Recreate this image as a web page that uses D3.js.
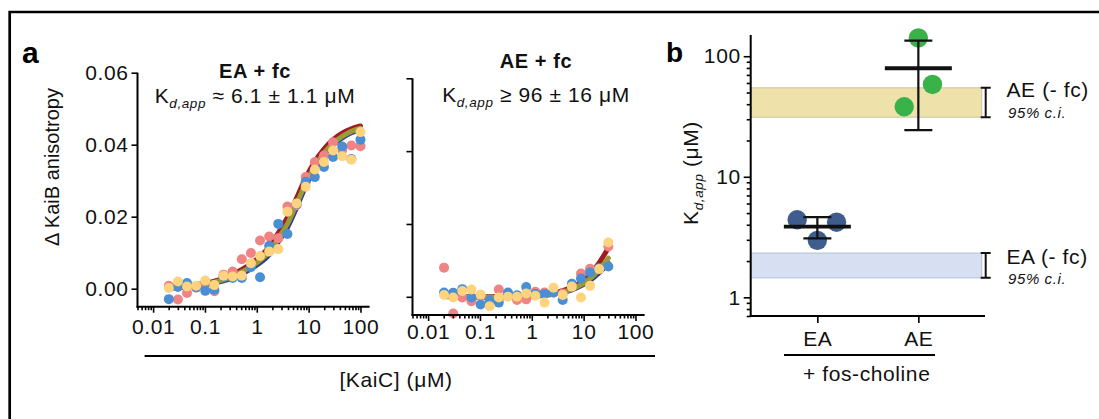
<!DOCTYPE html>
<html>
<head>
<meta charset="utf-8">
<script src="https://cdn.jsdelivr.net/npm/d3@7"></script>
<style>
  html, body { margin: 0; padding: 0; background: #fff; }
  svg { display: block; font-family: "Liberation Sans", Arial, Helvetica, sans-serif; }
  .lbl { font-size: 21px; letter-spacing: 0.6px; fill: #111; }
</style>
</head>
<body>
<svg id="fig" width="1099" height="419"></svg>
<script>
// ---- titration data: [KaiC] (µM), 1.5-fold dilution series ----
const concEA = [0.0201, 0.0301, 0.0451, 0.0677, 0.1015, 0.152, 0.228, 0.343, 0.514, 0.771, 1.156, 1.734, 2.60, 3.90, 5.85, 8.78, 13.17, 19.75, 29.6, 44.4, 66.7, 100];
const concAE = [0.0203, 0.0305, 0.0457, 0.0685, 0.103, 0.154, 0.231, 0.347, 0.52, 0.78, 1.17, 1.76, 2.63, 3.95, 5.93, 8.89, 13.3, 20, 30];

// ΔKaiB anisotropy, three replicates (EA + fc)
const eaRep1 = [0.0008, -0.0030, -0.0012, 0.0003, 0.0018, -0.0007, 0.0039, 0.0048, 0.0082, 0.0099, 0.0134, 0.0145, 0.0140, 0.0228, 0.0232, 0.0310, 0.0352, 0.0370, 0.0407, 0.0385, 0.0398, 0.0396];
const eaRep2 = [-0.0029, 0.0005, 0.0016, 0.0004, -0.0006, -0.0003, 0.0034, 0.0030, 0.0030, 0.0060, 0.0032, 0.0119, 0.0180, 0.0152, 0.0235, 0.0297, 0.0310, 0.0338, 0.0366, 0.0395, 0.0360, 0.0414];
const eaRep3 = [0.0002, 0.0020, 0.0006, 0.0008, 0.0023, 0.0010, 0.0036, 0.0034, 0.0036, 0.0071, 0.0091, 0.0103, 0.0110, 0.0214, 0.0237, 0.0283, 0.0331, 0.0352, 0.0384, 0.0368, 0.0358, 0.0435];
// fitted binding curves (EA + fc)
const eaFit1 = [0.0003, 0.0005, 0.0007, 0.0011, 0.0015, 0.0021, 0.0029, 0.0039, 0.0053, 0.0069, 0.0090, 0.0116, 0.0155, 0.0198, 0.0252, 0.0308, 0.0353, 0.0388, 0.0414, 0.0432, 0.0444, 0.0452];
const eaFit2 = [0.0001, 0.0003, 0.0005, 0.0008, 0.0011, 0.0016, 0.0022, 0.0030, 0.0041, 0.0055, 0.0072, 0.0094, 0.0130, 0.0170, 0.0225, 0.0285, 0.0333, 0.0371, 0.0399, 0.0419, 0.0433, 0.0442];
const eaFit3 = [0.0002, 0.0004, 0.0006, 0.0009, 0.0013, 0.0018, 0.0025, 0.0034, 0.0047, 0.0061, 0.0079, 0.0102, 0.0140, 0.0180, 0.0235, 0.0293, 0.0340, 0.0377, 0.0404, 0.0423, 0.0437, 0.0446];

// ΔKaiB anisotropy, three replicates (AE + fc)
const aeRep1 = [0.0080, -0.0046, -0.0002, -0.0012, 0.0002, -0.0012, 0.0020, 0.0005, -0.0009, -0.0007, 0.0014, 0.0012, 0.0012, 0.0009, 0.0030, 0.0064, 0.0077, 0.0078, 0.0138];
const aeRep2 = [0.0012, 0.0011, 0.0021, -0.0002, -0.0021, -0.0010, -0.0016, 0.0012, 0.0004, 0.0027, 0.0008, 0.0008, 0.0012, -0.0009, 0.0036, 0.0050, 0.0067, 0.0078, 0.0083];
const aeRep3 = [0.0005, -0.0002, 0.0016, 0.0020, 0.0006, -0.0026, -0.0002, 0.0000, 0.0000, 0.0009, 0.0003, -0.0016, 0.0025, 0.0005, 0.0028, -0.0002, 0.0030, 0.0076, 0.0149];
// fitted binding curves (AE + fc)
const aeFit1 = [0.0002, 0.0001, 0.0000, 0.0000, 0.0000, 0.0000, 0.0000, 0.0000, 0.0001, 0.0002, 0.0004, 0.0007, 0.0011, 0.0017, 0.0026, 0.0040, 0.0062, 0.0094, 0.0134];
const aeFit2 = [0.0001, 0.0000, 0.0000, -0.0001, -0.0001, -0.0001, 0.0000, 0.0000, 0.0000, 0.0001, 0.0002, 0.0004, 0.0007, 0.0012, 0.0019, 0.0030, 0.0045, 0.0066, 0.0092];
const aeFit3 = [0.0002, 0.0001, 0.0000, -0.0001, -0.0001, -0.0001, -0.0001, 0.0000, 0.0000, 0.0001, 0.0003, 0.0005, 0.0008, 0.0013, 0.0021, 0.0033, 0.0050, 0.0075, 0.0106];

const anisoTicks = [0, 0.02, 0.04, 0.06];
const concTicks = [0.01, 0.1, 1, 10, 100];
const concTickLabels = ["0.01", "0.1", "1", "10", "100"];

// ---- panel b: apparent Kd (µM) from individual fits ----
const kdGroups = ["EA", "AE"];
const kdEA = [4.4, 4.2, 2.97];
const kdAE = [142, 58.3, 38.1];
const kdJitterEA = [-0.2, 0.19, 0];
const kdJitterAE = [0, 0.14, -0.14];
const ciAEnoFc = [31.2, 54.7];
const ciEAnoFc = [1.45, 2.33];
const kdTicks = [1, 10, 100];

// colours
const repColors = ["#f08384", "#4a8fd3", "#fdd47d"];
const fitColors = ["#9e1b22", "#2d3f8e", "#9a9a36"];

const svg = d3.select("#fig");

// outer frame
svg.append("path").attr("d", "M9.7,419V12H1099").attr("fill", "none")
  .attr("stroke", "#000").attr("stroke-width", 2.7);

function minorLog(lo, hi) {
  const out = [];
  for (let e = -3; e <= 3; e++) for (let m = 1; m <= 9; m++) {
    const v = m * Math.pow(10, e);
    if (v >= lo && v <= hi && m !== 1) out.push(v);
  }
  return out;
}

function styleAxis(g) {
  g.selectAll(".domain").attr("stroke", "#000").attr("stroke-width", 2);
  g.selectAll(".tick line").attr("stroke", "#000").attr("stroke-width", 1.6);
  g.selectAll("text").attr("class", "lbl").attr("fill", "#111")
    .style("font-size", "21px").style("letter-spacing", "0.6px");
}

function titrationPanel(opt) {
  const x = d3.scaleLog().domain([0.005, 150]).range([opt.x0, opt.x1]);
  const y = d3.scaleLinear().domain([-0.005, 0.06]).range([opt.yb, opt.yt]);

  // fit curves
  const line = d3.line().x((d, i) => x(opt.conc[i])).y(d => y(d)).curve(d3.curveMonotoneX);
  [1, 0, 2].forEach(k => {
    svg.append("path").datum(opt.fits[k]).attr("d", line).attr("fill", "none")
      .attr("stroke", fitColors[k]).attr("stroke-width", 5).attr("stroke-linecap", "round");
  });
  // replicate points
  opt.reps.forEach((rep, k) => {
    svg.append("g").selectAll("circle").data(rep).join("circle")
      .attr("cx", (d, i) => x(opt.conc[i])).attr("cy", d => y(d))
      .attr("r", 5).attr("fill", repColors[k]);
  });

  // x axis: minor then labelled major ticks
  const gxm = svg.append("g").attr("transform", `translate(0,${opt.yb})`)
    .call(d3.axisBottom(x).tickValues(minorLog(0.005, 150)).tickSize(3.5).tickFormat(""));
  styleAxis(gxm);
  gxm.select(".domain").remove();
  const gx = svg.append("g").attr("transform", `translate(0,${opt.yb})`)
    .call(d3.axisBottom(x).tickValues(concTicks).tickSize(6).tickSizeOuter(0)
      .tickPadding(opt.xPad).tickFormat((d, i) => concTickLabels[i]));
  styleAxis(gx);
  gx.select(".domain").attr("d", `M${opt.x0 - 1},0H${opt.x1}`);

  // y axis
  const gy = svg.append("g").attr("transform", `translate(${opt.x0},0)`)
    .call(d3.axisLeft(y).tickValues(anisoTicks).tickSize(6).tickSizeOuter(0)
      .tickPadding(3).tickFormat(opt.yLabels ? d3.format(".2f") : ""));
  styleAxis(gy);
  gy.select(".domain").attr("d", `M0,${opt.yt}V${opt.yb + 1}`);
  return { x, y };
}

titrationPanel({ conc: concEA, reps: [eaRep1, eaRep2, eaRep3], fits: [eaFit1, eaFit2, eaFit3],
  x0: 137.5, x1: 369.6, yt: 72.7, yb: 306.7, yLabels: true, xPad: 6 });
titrationPanel({ conc: concAE, reps: [aeRep1, aeRep2, aeRep3], fits: [aeFit1, aeFit2, aeFit3],
  x0: 412.5, x1: 644.6, yt: 78.3, yb: 315, yLabels: false, xPad: 3 });

// panel titles
function kdLabel(cx, by, rel, val) {
  const t = svg.append("text").attr("x", cx).attr("y", by).attr("text-anchor", "middle")
    .attr("class", "lbl");
  t.append("tspan").text("K");
  t.append("tspan").attr("dy", 5).style("font-size", "13.5px").style("font-style", "italic").text("d,app");
  t.append("tspan").attr("dy", -5).text(" " + rel + " " + val);
}
svg.append("text").attr("x", 255).attr("y", 78).attr("text-anchor", "middle").attr("class", "lbl")
  .style("font-weight", "bold").style("font-size", "20px").text("EA + fc");
kdLabel(255, 103, "≈", "6.1 ± 1.1 μM");
svg.append("text").attr("x", 536).attr("y", 68).attr("text-anchor", "middle").attr("class", "lbl")
  .style("font-weight", "bold").style("font-size", "20px").text("AE + fc");
kdLabel(536, 101.5, "≥", "96 ± 16 μM");

// y label, shared x label
svg.append("text").attr("transform", "translate(59,167) rotate(-90)").attr("text-anchor", "middle")
  .attr("class", "lbl").style("font-size", "20px").style("letter-spacing", "0px").text("Δ KaiB anisotropy");
svg.append("line").attr("x1", 144.6).attr("x2", 655).attr("y1", 356).attr("y2", 356)
  .attr("stroke", "#000").attr("stroke-width", 2);
svg.append("text").attr("x", 396).attr("y", 387).attr("text-anchor", "middle").attr("class", "lbl")
  .text("[KaiC] (μM)");

// panel letters
svg.append("text").attr("x", 22).attr("y", 63).style("font-size", "30px").style("font-weight", 900).text("a");
svg.append("text").attr("x", 666).attr("y", 62).style("font-size", "28px").style("font-weight", 900).text("b");

// ---- panel b ----
const bx0 = 750.7, bx1 = 985, byT = 35, byB = 316;
const ky = d3.scaleLog().domain([0.7, 150]).range([byB, byT]);
const kx = d3.scalePoint().domain(kdGroups).range([bx0, bx1]).padding(0.66);
const step = kx.step();

// 95% c.i. bands without fos-choline
[[ciAEnoFc, "#eee1aa", "#c9c3a6"], [ciEAnoFc, "#d6e0f2", "#b3bfd3"]].forEach(([ci, fill, edge]) => {
  svg.append("rect").attr("x", bx0).attr("width", 981.7 - bx0)
    .attr("y", ky(ci[1])).attr("height", ky(ci[0]) - ky(ci[1]))
    .attr("fill", fill).attr("stroke", edge).attr("stroke-width", 1);
  const bxr = 985.7;
  svg.append("path").attr("d", `M${bxr - 5},${ky(ci[1])}H${bxr + 5}M${bxr},${ky(ci[1])}V${ky(ci[0])}M${bxr - 5},${ky(ci[0])}H${bxr + 5}`)
    .attr("fill", "none").attr("stroke", "#111").attr("stroke-width", 2);
});

// individual Kd points, mean ± SD
[[kdEA, kdJitterEA, "EA", "#3e5c8d"], [kdAE, kdJitterAE, "AE", "#3ab24a"]].forEach(([vals, jit, g, col]) => {
  svg.append("g").selectAll("circle").data(vals).join("circle")
    .attr("cx", (d, i) => kx(g) + jit[i] * step).attr("cy", d => ky(d))
    .attr("r", 9.7).attr("fill", col);
  const m = d3.mean(vals), sd = d3.deviation(vals);
  const cx = kx(g);
  svg.append("path")
    .attr("d", `M${cx - 14},${ky(m + sd)}H${cx + 14}M${cx},${ky(m + sd)}V${ky(m - sd)}M${cx - 14},${ky(m - sd)}H${cx + 14}`)
    .attr("fill", "none").attr("stroke", "#111").attr("stroke-width", 2.2);
  svg.append("line").attr("x1", cx - 33.5).attr("x2", cx + 33.5).attr("y1", ky(m)).attr("y2", ky(m))
    .attr("stroke", "#111").attr("stroke-width", 3.8);
});

// axes
const gkym = svg.append("g").attr("transform", `translate(${bx0},0)`)
  .call(d3.axisLeft(ky).tickValues(minorLog(0.7, 150)).tickSize(4).tickFormat(""));
styleAxis(gkym);
gkym.select(".domain").remove();
const gky = svg.append("g").attr("transform", `translate(${bx0},0)`)
  .call(d3.axisLeft(ky).tickValues(kdTicks).tickSize(7).tickSizeOuter(0).tickPadding(3).tickFormat(d3.format("d")));
styleAxis(gky);
gky.select(".domain").attr("d", `M0,${byT}V${byB + 1}`);

const gkx = svg.append("g").attr("transform", `translate(0,${byB})`)
  .call(d3.axisBottom(kx).tickSize(7).tickSizeOuter(0).tickPadding(8));
styleAxis(gkx);
gkx.select(".domain").attr("d", `M${bx0 - 1},0H${bx1}`);

svg.append("line").attr("x1", 784).attr("x2", 935).attr("y1", 355).attr("y2", 355)
  .attr("stroke", "#000").attr("stroke-width", 2);
svg.append("text").attr("x", 866.7).attr("y", 381).attr("text-anchor", "middle").attr("class", "lbl")
  .text("+ fos-choline");

// y label with subscript
const kyl = svg.append("text").attr("transform", "translate(698,173) rotate(-90)")
  .attr("text-anchor", "middle").attr("class", "lbl");
kyl.append("tspan").text("K");
kyl.append("tspan").attr("dy", 5).style("font-size", "13.5px").style("font-style", "italic").text("d,app");
kyl.append("tspan").attr("dy", -5).text(" (μM)");

// band labels
[["AE (- fc)", 97.3, 118], ["EA (- fc)", 264, 284]].forEach(([t, y1, y2]) => {
  svg.append("text").attr("x", 1006.5).attr("y", y1).attr("class", "lbl").text(t);
  svg.append("text").attr("x", 1008).attr("y", y2).attr("class", "lbl")
    .style("font-size", "15px").style("font-style", "italic").style("letter-spacing", "0.6px").text("95% c.i.");
});
</script>
</body>
</html>
